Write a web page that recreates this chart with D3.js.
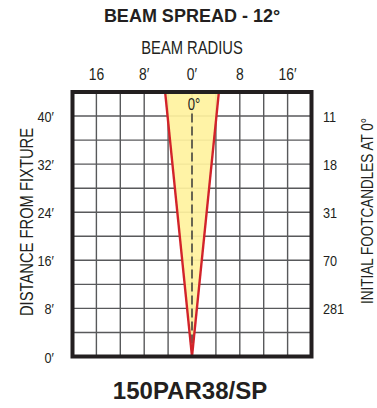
<!DOCTYPE html>
<html>
<head>
<meta charset="utf-8">
<script src="https://cdn.jsdelivr.net/npm/d3@7"></script>
<style>
  body { margin: 0; background: #fff; }
  text { fill: #231f20; }
  .narrow { font-family: "Liberation Sans", Arial, sans-serif; }
  .bold { font-family: "Liberation Sans", Arial, sans-serif; font-weight: bold; }
  .grid line { stroke: #58595b; stroke-width: 1.4; }
</style>
</head>
<body>
<div id="chart"></div>
<script>
// beam radius ticks (feet) along the top
var radiusTicks = [-16, -8, 0, 8, 16];
var radiusLabels = ["16", "8\u2032", "0\u2032", "8", "16\u2032"];

// distance from fixture (feet) on the left
var distTicks = [0, 8, 16, 24, 32, 40];
var distLabels = ["0\u2032", "8\u2032", "16\u2032", "24\u2032", "32\u2032", "40\u2032"];

// initial footcandles at 0 deg, on the right
var fcDist = [40, 32, 24, 16, 8];
var fcValues = [11, 18, 31, 70, 281];

// edge of the 12 deg beam: distance vs radius (feet)
var beamDist = [0, 44];
var beamRadius = [0, 4.5];

// centre line runs from the fixture up to just under the 0 deg label
var centerDist = [0, 40.5];

var title = "BEAM SPREAD - 12\u00b0";
var lampName = "150PAR38/SP";

var SQUEEZE = 0.82; // condensed look, no narrow font installed

drawChart();

// condensed text: squeezed along its own direction
function narrowText(parent, x, y, str, size, anchor, rot) {
  return parent.append("text")
    .attr("class", "narrow")
    .attr("transform", "translate(" + x + "," + y + ")" +
      (rot ? " rotate(" + rot + ")" : "") + " scale(" + SQUEEZE + ",1)")
    .attr("text-anchor", anchor || "middle")
    .style("font-size", size + "px")
    .text(str);
}

function drawChart() {
  var W = 377, H = 408;

  var svg = d3.select("#chart").append("svg")
    .attr("width", W)
    .attr("height", H);

  // plot frame
  var frame = { left: 72.5, right: 311.5, top: 92, bottom: 356.5 };

  var xScale = d3.scaleLinear()
    .domain([-20, 20])
    .range([frame.left, frame.right]);

  var yScale = d3.scaleLinear()
    .domain([0, 44])
    .range([frame.bottom, frame.top]);

  // grid, every 4 feet
  var grid = svg.append("g").attr("class", "grid");
  grid.selectAll(".vx")
    .data(d3.range(-16, 20, 4))
    .enter().append("line")
    .attr("x1", (d) => xScale(d)).attr("x2", (d) => xScale(d))
    .attr("y1", frame.top).attr("y2", frame.bottom);
  grid.selectAll(".hy")
    .data(d3.range(4, 44, 4))
    .enter().append("line")
    .attr("x1", frame.left).attr("x2", frame.right)
    .attr("y1", (d) => yScale(d)).attr("y2", (d) => yScale(d));

  // beam cone
  var left = beamDist.map((d, i) => [-beamRadius[i], d]);
  var right = beamDist.map((d, i) => [beamRadius[i], d]);
  var line = d3.line()
    .x((d) => xScale(d[0]))
    .y((d) => yScale(d[1]));

  svg.append("path")
    .datum(left.concat(right.slice().reverse()))
    .attr("d", line)
    .attr("fill", "#fff29e")
    .attr("fill-opacity", 0.92);

  svg.append("path")
    .datum(centerDist.map((d) => [0, d]))
    .attr("d", line)
    .attr("fill", "none")
    .attr("stroke", "#3a3a3a")
    .attr("stroke-width", 1.5)
    .attr("stroke-dasharray", "9,4");

  [left, right].forEach((edge) => {
    svg.append("path")
      .datum(edge)
      .attr("d", line)
      .attr("fill", "none")
      .attr("stroke", "#d2232a")
      .attr("stroke-width", 2.4);
  });

  narrowText(svg, xScale(0) + 2, 110, "0\u00b0", 16);

  // frame on top
  svg.append("rect")
    .attr("x", frame.left).attr("y", frame.top)
    .attr("width", frame.right - frame.left)
    .attr("height", frame.bottom - frame.top)
    .attr("fill", "none")
    .attr("stroke", "#231f20")
    .attr("stroke-width", 4);

  // titles
  svg.append("text")
    .attr("class", "bold")
    .attr("x", 192).attr("y", 22)
    .attr("text-anchor", "middle")
    .style("font-size", "18px")
    .text(title);

  narrowText(svg, 192, 54, "BEAM RADIUS", 18);

  svg.append("text")
    .attr("class", "bold")
    .attr("x", 190).attr("y", 399)
    .attr("text-anchor", "middle")
    .style("font-size", "24px")
    .text(lampName);

  // top radius labels
  radiusTicks.forEach((d, i) => {
    narrowText(svg, xScale(d), 80, radiusLabels[i], 17);
  });

  // left distance labels
  distTicks.forEach((d, i) => {
    narrowText(svg, 54, yScale(d) + 6, distLabels[i], 15.5, "end");
  });

  // right footcandle labels
  fcDist.forEach((d, i) => {
    narrowText(svg, 323, yScale(d) + 6, fcValues[i], 15.5, "start");
  });

  // axis titles
  narrowText(svg, 33, 222, "DISTANCE FROM FIXTURE", 18, "middle", -90);
  narrowText(svg, 373, 211, "INITIAL FOOTCANDLES AT 0\u00b0", 16.5, "middle", -90);
}
</script>
</body>
</html>
